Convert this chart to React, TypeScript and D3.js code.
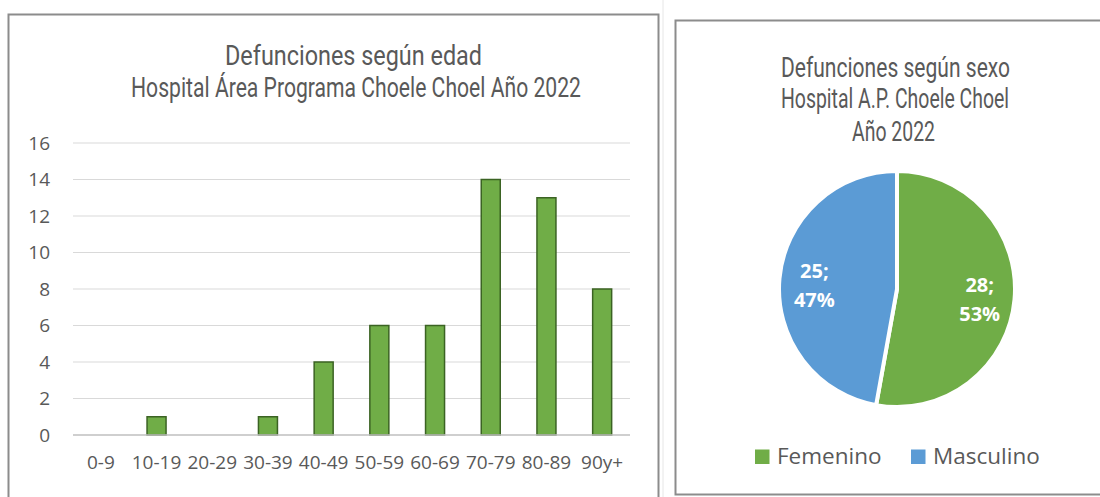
import React, { useLayoutEffect, useRef, useState } from "react";
import * as d3 from "d3";

const ageGroups = ["0-9", "10-19", "20-29", "30-39", "40-49", "50-59", "60-69", "70-79", "80-89", "90y+"];
const deaths = [0, 1, 0, 1, 4, 6, 6, 14, 13, 8];
const yTicks = [0, 2, 4, 6, 8, 10, 12, 14, 16];

const sexLabels = ["Femenino", "Masculino"];
const sexValues = [28, 25];
const sexColors = ["#70AD47", "#5B9BD5"];

const barTitle = ["Defunciones según edad", "Hospital Área Programa Choele Choel Año 2022"];
const pieTitle = ["Defunciones según sexo", "Hospital A.P. Choele Choel", "Año 2022"];

const TEXT = "#595959";
const TITLE_FONT = "Roboto, 'DejaVu Sans', sans-serif";
const BODY_FONT = "'Open Sans', 'Noto Sans', sans-serif";

function FitText({ x, y, w, text }: { x: number; y: number; w: number; text: string }) {
  const ref = useRef<SVGTextElement>(null);
  const [s, setS] = useState(0.75);
  useLayoutEffect(() => {
    if (ref.current) {
      const nat = ref.current.getComputedTextLength();
      if (nat > 0) setS(w / nat);
    }
  }, [w, text]);
  return (
    <text ref={ref} transform={`translate(${x},${y}) scale(${s},1)`} textAnchor="middle" fill={TEXT}
      fontFamily={TITLE_FONT} fontSize={28} fontWeight={400}>{text}</text>
  );
}

export default function App() {
  const plotLeft = 73, plotRight = 630, plotTop = 143, plotBottom = 435;
  const x = d3.scaleBand<string>().domain(ageGroups).range([plotLeft, plotRight]).paddingInner(0).paddingOuter(0);
  const y = d3.scaleLinear().domain([0, 16]).range([plotBottom, plotTop]);
  const barW = 19;

  const cx = 897, cy = 289, r = 118;
  const pie = d3.pie<number>().sort(null).value((d) => d);
  const arcs = pie(sexValues);
  const arc = d3.arc<d3.PieArcDatum<number>>().innerRadius(0).outerRadius(r);
  const labelArc = d3.arc<d3.PieArcDatum<number>>().innerRadius(83).outerRadius(83);
  const total = d3.sum(sexValues);

  const barTitleLayout = [
    { x: 353.5, y: 65, w: 257 },
    { x: 356, y: 97, w: 450 },
  ];
  const pieTitleLayout = [
    { x: 895.5, y: 77, w: 229 },
    { x: 895, y: 108, w: 228 },
    { x: 893.5, y: 141, w: 83 },
  ];

  return (
    <svg width={1100} height={497} style={{ position: "absolute", left: 0, top: 0, background: "#fff" }}>
      <rect x={8.5} y={14.5} width={650} height={500} fill="#fff" stroke="#8c8c8c" strokeWidth={2} />
      <line x1={663} x2={663} y1={0} y2={497} stroke="#e6e6e6" strokeWidth={1} />
      <rect x={675.5} y={20.5} width={450} height={474} fill="#fff" stroke="#8c8c8c" strokeWidth={2} />

      {barTitle.map((t, i) => (
        <FitText key={t} x={barTitleLayout[i].x} y={barTitleLayout[i].y} w={barTitleLayout[i].w} text={t} />
      ))}

      {yTicks.map((t) => (
        <g key={t}>
          {t > 0 && <line x1={plotLeft} x2={plotRight} y1={y(t)} y2={y(t)} stroke="#d9d9d9" strokeWidth={1.2} />}
          <text x={50} y={y(t)} dy="0.35em" textAnchor="end" fill={TEXT} fontFamily={BODY_FONT} fontSize={19}>{t}</text>
        </g>
      ))}

      {ageGroups.map((g, i) => {
        const v = deaths[i];
        const cxBar = (x(g) as number) + x.bandwidth() / 2;
        return (
          <g key={g}>
            {v > 0 && (
              <rect x={cxBar - barW / 2} y={y(v)} width={barW} height={y(0) - y(v)}
                fill="#70AD47" stroke="#3B6323" strokeWidth={1.5} />
            )}
            <text x={cxBar} y={469} textAnchor="middle" fill={TEXT} fontFamily={BODY_FONT} fontSize={19}>{g}</text>
          </g>
        );
      })}
      <line x1={plotLeft} x2={plotRight} y1={y(0)} y2={y(0)} stroke="#bfbfbf" strokeWidth={1.5} />

      {pieTitle.map((t, i) => (
        <FitText key={t} x={pieTitleLayout[i].x} y={pieTitleLayout[i].y} w={pieTitleLayout[i].w} text={t} />
      ))}

      <g transform={`translate(${cx},${cy})`}>
        {arcs.map((a, i) => (
          <path key={i} d={arc(a) as string} fill={sexColors[i]} stroke="#fff" strokeWidth={4} strokeLinejoin="round" />
        ))}
        {arcs.map((a, i) => {
          const [lx, ly] = labelArc.centroid(a);
          const pct = Math.round((sexValues[i] / total) * 100);
          return (
            <text key={i} x={lx} y={ly} textAnchor="middle" fill="#fff" fontFamily={BODY_FONT} fontWeight="bold" fontSize={20}>
              <tspan x={lx} dy="-0.2em">{sexValues[i]};</tspan>
              <tspan x={lx} dy="1.45em">{pct}%</tspan>
            </text>
          );
        })}
      </g>

      {sexLabels.map((s, i) => {
        const lx = [755, 911][i];
        return (
          <g key={s}>
            <rect x={lx} y={449.5} width={14.5} height={14.5} fill={sexColors[i]} />
            <text x={lx + 22} y={464} fill={TEXT} fontFamily={BODY_FONT} fontSize={22.5}>{s}</text>
          </g>
        );
      })}
    </svg>
  );
}
